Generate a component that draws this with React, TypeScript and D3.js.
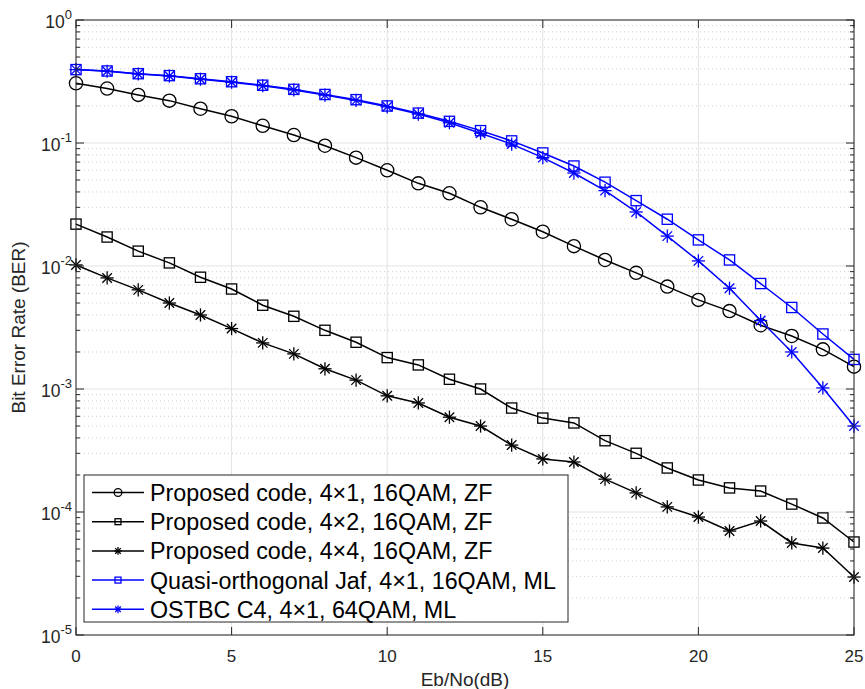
import React from "react";
import * as d3 from "d3";

// Eb/No axis, 0..25 dB
const snr = d3.range(0, 26);

// BER curves
const zf4x1 = [0.306, 0.277, 0.246, 0.221, 0.19, 0.165, 0.138, 0.116, 0.095, 0.076, 0.06, 0.047, 0.039, 0.03, 0.024, 0.019, 0.0145, 0.0112, 0.0088, 0.0068, 0.0053, 0.0043, 0.0033, 0.0027, 0.0021, 0.00152];
const zf4x2 = [0.0219, 0.0172, 0.0132, 0.0106, 0.0081, 0.0065, 0.0048, 0.0039, 0.003, 0.0024, 0.0018, 0.00157, 0.0012, 0.001, 0.0007, 0.00058, 0.00053, 0.00038, 0.0003, 0.000228, 0.000182, 0.000157, 0.000148, 0.000116, 0.0000894, 0.000057];
const zf4x4 = [0.0102, 0.008, 0.0064, 0.005, 0.004, 0.0031, 0.00237, 0.00193, 0.00146, 0.00118, 0.00088, 0.00077, 0.00059, 0.0005, 0.00035, 0.00027, 0.000255, 0.000185, 0.000143, 0.00011, 0.000091, 0.00007, 0.0000845, 0.000056, 0.0000509, 0.0000296];
const jaf4x1 = [0.395, 0.385, 0.366, 0.353, 0.333, 0.315, 0.295, 0.273, 0.248, 0.225, 0.2, 0.175, 0.15, 0.126, 0.104, 0.083, 0.065, 0.048, 0.034, 0.024, 0.0163, 0.0112, 0.0072, 0.0046, 0.0028, 0.00174];
const ostbc4x1 = [0.395, 0.383, 0.364, 0.35, 0.33, 0.312, 0.292, 0.27, 0.245, 0.222, 0.197, 0.172, 0.146, 0.12, 0.098, 0.076, 0.057, 0.041, 0.0275, 0.0175, 0.011, 0.0066, 0.0036, 0.002, 0.00102, 0.0005];

const seriesNames = [
  "Proposed code, 4\u00d71, 16QAM, ZF",
  "Proposed code, 4\u00d72, 16QAM, ZF",
  "Proposed code, 4\u00d74, 16QAM, ZF",
  "Quasi-orthogonal Jaf, 4\u00d71, 16QAM, ML",
  "OSTBC C4, 4\u00d71, 64QAM, ML",
];
const seriesColors = ["#000000", "#000000", "#000000", "#0000ff", "#0000ff"];
const seriesMarkers = ["circle", "square", "star", "square", "star"];
const seriesData = [zf4x1, zf4x2, zf4x4, jaf4x1, ostbc4x1];

const xTicks = [0, 5, 10, 15, 20, 25];
const yExponents = [0, -1, -2, -3, -4, -5];

const W = 865;
const H = 689;
const m = { left: 76, right: 10, top: 20, bottom: 54 };
const axisColor = "#262626";
const font = "'Liberation Sans', Arial, Helvetica, sans-serif";

function Marker({ kind, cx, cy, color, size }) {
  if (kind === "circle") {
    return <circle cx={cx} cy={cy} r={size * 0.55} fill="none" stroke={color} strokeWidth={1.3} />;
  }
  if (kind === "square") {
    const s = size * 0.85;
    return <rect x={cx - s / 2} y={cy - s / 2} width={s} height={s} fill="none" stroke={color} strokeWidth={1.3} />;
  }
  const r = size * 0.55;
  const d = r * 0.72;
  return (
    <g stroke={color} strokeWidth={1.3}>
      <line x1={cx - r} y1={cy} x2={cx + r} y2={cy} />
      <line x1={cx} y1={cy - r} x2={cx} y2={cy + r} />
      <line x1={cx - d} y1={cy - d} x2={cx + d} y2={cy + d} />
      <line x1={cx - d} y1={cy + d} x2={cx + d} y2={cy - d} />
    </g>
  );
}

export default function App() {
  const x = d3.scaleLinear().domain([0, 25]).range([m.left, W - m.right - 1]);
  const y = d3.scaleLog().domain([1e-5, 1]).range([H - m.bottom, m.top]);
  const x0 = x(0);
  const x1 = x(25);
  const yTop = y(1);
  const yBot = y(1e-5);

  const minorTicks = [];
  for (let e = -5; e < 0; e++) {
    for (let k = 2; k <= 9; k++) minorTicks.push(k * Math.pow(10, e));
  }

  const line = d3
    .line<number>()
    .x((_, i) => x(snr[i]))
    .y((v) => y(v));

  const legX = 84;
  const legY = 475;
  const legW = 484;
  const legH = 147;
  const rowH = 29.2;

  return (
    <svg width={W} height={H} style={{ position: "absolute", left: 0, top: 0, background: "#fff" }} fontFamily={font}>
      {/* grid */}
      {minorTicks.map((t, i) => (
        <line key={"mg" + i} x1={x0} x2={x1} y1={y(t)} y2={y(t)} stroke="#cfcfcf" strokeWidth={1} strokeDasharray="1,3" />
      ))}
      {yExponents.map((e) => (
        <line key={"yg" + e} x1={x0} x2={x1} y1={y(Math.pow(10, e))} y2={y(Math.pow(10, e))} stroke="#e3e3e3" strokeWidth={1} />
      ))}
      {xTicks.map((t) => (
        <line key={"xg" + t} x1={x(t)} x2={x(t)} y1={yTop} y2={yBot} stroke="#e3e3e3" strokeWidth={1} />
      ))}

      {/* series */}
      {seriesData.map((vals, s) => (
        <g key={"s" + s}>
          <path d={line(vals)} fill="none" stroke={seriesColors[s]} strokeWidth={1.5} />
          {vals.map((v, i) => (
            <Marker key={i} kind={seriesMarkers[s]} cx={x(snr[i])} cy={y(v)} color={seriesColors[s]} size={12} />
          ))}
        </g>
      ))}

      {/* axes box and ticks */}
      <rect x={x0} y={yTop} width={x1 - x0} height={yBot - yTop} fill="none" stroke={axisColor} strokeWidth={1} />
      {xTicks.map((t) => (
        <g key={"xt" + t}>
          <line x1={x(t)} x2={x(t)} y1={yBot} y2={yBot - 8} stroke={axisColor} />
          <line x1={x(t)} x2={x(t)} y1={yTop} y2={yTop + 8} stroke={axisColor} />
          <text x={x(t)} y={yBot + 27} textAnchor="middle" fontSize={17} fill={axisColor}>
            {t}
          </text>
        </g>
      ))}
      {yExponents.map((e) => {
        const yy = y(Math.pow(10, e));
        return (
          <g key={"yt" + e}>
            <line x1={x0} x2={x0 + 8} y1={yy} y2={yy} stroke={axisColor} />
            <line x1={x1} x2={x1 - 8} y1={yy} y2={yy} stroke={axisColor} />
            <text x={x0 - 4} y={yy + 8} textAnchor="end" fontSize={17.5} fill={axisColor}>
              10
              <tspan dy={-9} fontSize={13}>
                {e}
              </tspan>
            </text>
          </g>
        );
      })}
      {minorTicks.map((t, i) => (
        <g key={"mt" + i}>
          <line x1={x0} x2={x0 + 4} y1={y(t)} y2={y(t)} stroke={axisColor} />
          <line x1={x1} x2={x1 - 4} y1={y(t)} y2={y(t)} stroke={axisColor} />
        </g>
      ))}

      {/* axis labels */}
      <text x={(x0 + x1) / 2} y={686} textAnchor="middle" fontSize={19} fill={axisColor}>
        Eb/No(dB)
      </text>
      <text transform={`translate(25,${(yTop + yBot) / 2}) rotate(-90)`} textAnchor="middle" fontSize={19} fill={axisColor}>
        Bit Error Rate (BER)
      </text>

      {/* legend */}
      <rect x={legX} y={legY} width={legW} height={legH} fill="#fff" stroke={axisColor} strokeWidth={1} />
      {seriesNames.map((name, i) => {
        const cy = legY + 17.5 + i * rowH;
        return (
          <g key={"lg" + i}>
            <line x1={legX + 8} x2={legX + 60} y1={cy} y2={cy} stroke={seriesColors[i]} strokeWidth={1.5} />
            <Marker kind={seriesMarkers[i]} cx={legX + 34} cy={cy} color={seriesColors[i]} size={7} />
            <text x={legX + 66} y={cy + 8.5} fontSize={23.3} fill="#000">
              {name}
            </text>
          </g>
        );
      })}
    </svg>
  );
}
